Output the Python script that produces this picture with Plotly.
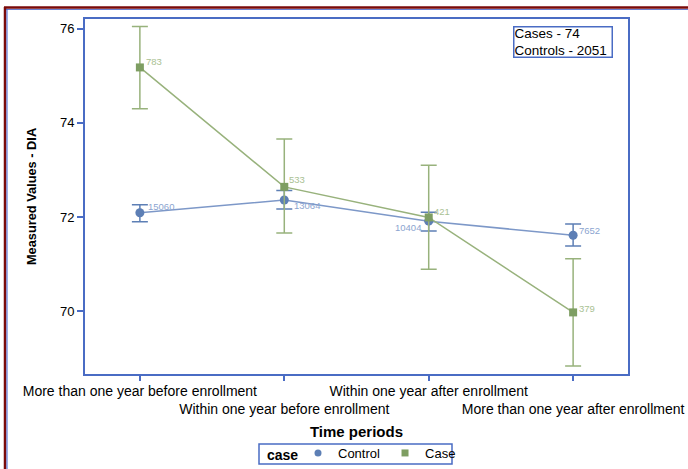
import plotly.graph_objects as go

categories = ["More than one year before enrollment", "Within one year before enrollment",
              "Within one year after enrollment", "More than one year after enrollment"]
control_mean = [72.09, 72.36, 71.91, 71.61]
control_upper = [72.26, 72.56, 72.10, 71.85]
control_lower = [71.90, 72.17, 71.70, 71.38]
control_n = ["15060", "13064", "10404", "7652"]
case_mean = [75.18, 72.64, 71.99, 69.97]
case_upper = [76.05, 73.66, 73.10, 71.11]
case_lower = [74.30, 71.66, 70.89, 68.83]
case_n = ["783", "533", "421", "379"]
y_ticks = [70, 72, 74, 76]

FONT = "Arial, Liberation Sans, sans-serif"
BLUE_LINE = "#7d98c8"
BLUE_MK = "#5d7fb5"
GREEN_LINE = "#98b27c"
GREEN_MK = "#7e9e62"
FRAME = "#4a6cc4"

xs = list(range(len(categories)))

fig = go.Figure()
fig.add_trace(go.Scatter(
    x=xs, y=control_mean, mode="lines+markers", name="Control", showlegend=False,
    line=dict(color=BLUE_LINE, width=1.5),
    marker=dict(symbol="circle", size=9, color=BLUE_MK),
    error_y=dict(type="data", symmetric=False,
                 array=[u - m for u, m in zip(control_upper, control_mean)],
                 arrayminus=[m - l for l, m in zip(control_lower, control_mean)],
                 color=BLUE_MK, thickness=1.5, width=8),
))
fig.add_trace(go.Scatter(
    x=xs, y=case_mean, mode="lines+markers", name="Case", showlegend=False,
    line=dict(color=GREEN_LINE, width=1.5),
    marker=dict(symbol="square", size=8, color=GREEN_MK),
    error_y=dict(type="data", symmetric=False,
                 array=[u - m for u, m in zip(case_upper, case_mean)],
                 arrayminus=[m - l for l, m in zip(case_lower, case_mean)],
                 color=GREEN_LINE, thickness=1.5, width=8),
))
# legend entries
fig.add_trace(go.Scatter(x=[None], y=[None], mode="markers", name="Control",
                         marker=dict(symbol="circle", size=7, color=BLUE_MK)))
fig.add_trace(go.Scatter(x=[None], y=[None], mode="markers", name="Case",
                         marker=dict(symbol="square", size=7, color=GREEN_MK)))

# count labels next to each point (offsets in pixels)
control_lab = [("left", 6, 6), ("left", 8, -5), ("right", -6, -6), ("left", 4, 5)]
case_lab = [("left", 4, 6), ("left", 3, 7), ("left", 3, 6), ("left", 4, 4)]
for i in xs:
    a, dx, dy = control_lab[i]
    fig.add_annotation(x=xs[i], y=control_mean[i], text=control_n[i], showarrow=False,
                       xanchor=a, yanchor="middle", xshift=dx, yshift=dy,
                       font=dict(family=FONT, size=9.5, color="#8ca5d0"))
    a, dx, dy = case_lab[i]
    fig.add_annotation(x=xs[i], y=case_mean[i], text=case_n[i], showarrow=False,
                       xanchor=a, yanchor="middle", xshift=dx, yshift=dy,
                       font=dict(family=FONT, size=9.5, color="#a9c193"))

ticktext = [c if i % 2 == 0 else "<br>" + c for i, c in enumerate(categories)]

# pixel -> paper helpers (plot area: x 85..628, y 19..374)
def px(xp):
    return (xp - 85) / 543.0
def py(yp):
    return (374 - yp) / 355.0

fig.update_layout(
    width=688, height=469,
    margin=dict(l=85, r=60, t=19, b=95, autoexpand=False),
    paper_bgcolor="white", plot_bgcolor="white",
    font=dict(family=FONT, size=12, color="black"),
    xaxis=dict(range=[-0.38, 3.38], tickmode="array", tickvals=xs, ticktext=ticktext,
               tickangle=0,
               showgrid=False, zeroline=False, showline=True, linecolor=FRAME, linewidth=2,
               mirror=True, ticks="outside", tickcolor=FRAME, ticklen=5, tickwidth=1.5,
               ticklabelstandoff=-2,
               tickfont=dict(size=14, color="black"), automargin=False,
               title=dict(text="<b>Time periods</b>", font=dict(size=15), standoff=10)),
    yaxis=dict(range=[68.66, 76.21], tickvals=y_ticks, showgrid=False, zeroline=False,
               showline=True, linecolor=FRAME, linewidth=2, mirror=True,
               ticks="outside", tickcolor=FRAME, ticklen=6, tickwidth=1.5,
               tickfont=dict(size=13, color="black"), automargin=False,
               title=dict(text="<b>Measured Values - DIA</b>", font=dict(size=12.8), standoff=20)),
    legend=dict(orientation="h", x=px(298), xanchor="left", y=py(438), yanchor="top",
                borderwidth=0, bgcolor="rgba(0,0,0,0)",
                font=dict(size=13), itemwidth=30, valign="middle"),
    showlegend=True,
)

# legend title and frame
fig.add_annotation(xref="paper", yref="paper", x=px(265), y=py(454.5), xanchor="left", yanchor="middle",
                   text="<b>case</b>", showarrow=False, font=dict(size=14, color="black"))
fig.add_shape(type="rect", xref="paper", yref="paper", x0=px(259), x1=px(452), y0=py(444), y1=py(464),
              line=dict(color=FRAME, width=1.5), fillcolor="rgba(0,0,0,0)", layer="below")

fig.add_annotation(xref="paper", yref="paper", x=px(613), y=py(26), xanchor="right", yanchor="top",
                   text="Cases - 74<br>Controls - 2051", align="left", showarrow=False,
                   width=97, height=29, valign="middle",
                   font=dict(size=13.5, color="black"), bordercolor=FRAME, borderwidth=1.5,
                   borderpad=0, bgcolor="white")

# outer frame (dark red with blue inner line)
fig.add_shape(type="line", xref="paper", yref="paper", x0=px(4), x1=px(688), y0=py(7.5), y1=py(7.5),
              line=dict(color="#7a0a0a", width=2.5))
fig.add_shape(type="line", xref="paper", yref="paper", x0=px(5), x1=px(688), y0=py(9.5), y1=py(9.5),
              line=dict(color="#6a7fd0", width=1))
fig.add_shape(type="line", xref="paper", yref="paper", x0=px(5), x1=px(5), y0=py(7), y1=py(469),
              line=dict(color="#7a0a0a", width=2.5))
fig.add_shape(type="line", xref="paper", yref="paper", x0=px(7), x1=px(7), y0=py(9), y1=py(469),
              line=dict(color="#4060d0", width=1))

fig.write_html("out.html", config={"displayModeBar": False},
               post_script="document.body.style.margin='0';")
